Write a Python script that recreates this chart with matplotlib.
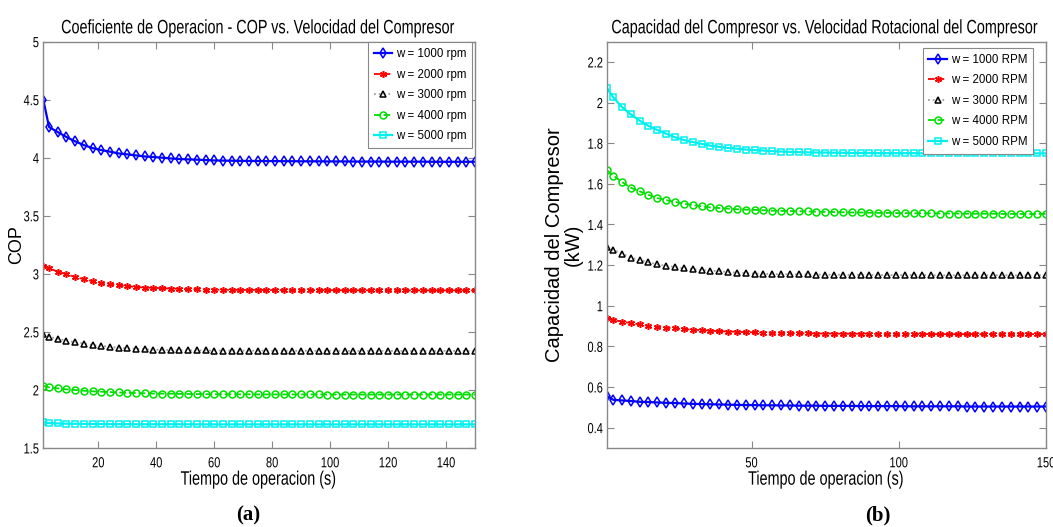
#!/usr/bin/env python3

import matplotlib
matplotlib.use('Agg')
import matplotlib.pyplot as plt
from matplotlib.patheffects import AbstractPathEffect
from matplotlib.transforms import Affine2D

graphWidth = 1053  # units are pixels
graphHeight = 527  # units are pixels

# time samples (s): first sample plus one every 3 s
tiempo = [1] + list(range(3, 151, 3))

# COP for each compressor speed
cop_1000 = [4.50, 4.264, 4.221, 4.178, 4.141, 4.109, 4.083, 4.066, 4.052, 4.037, 4.029,
            4.020, 4.011, 4.006, 4.000, 3.994, 3.989, 3.986, 3.983, 3.980, 3.977, 3.975,
            3.974, 3.973, 3.972, 3.972, 3.971, 3.971, 3.970, 3.970, 3.969, 3.969, 3.969,
            3.968, 3.968, 3.968, 3.967, 3.967, 3.967, 3.967, 3.966, 3.966, 3.966, 3.966,
            3.966, 3.965, 3.965, 3.965, 3.965, 3.965, 3.965]
cop_2000 = [3.068, 3.048, 3.019, 2.996, 2.973, 2.953, 2.936, 2.922, 2.910, 2.902, 2.893,
            2.887, 2.881, 2.879, 2.876, 2.873, 2.870, 2.867, 2.867, 2.864, 2.864, 2.862,
            2.862, 2.861, 2.861, 2.861, 2.860, 2.860, 2.860, 2.860, 2.859, 2.859, 2.859,
            2.859, 2.859, 2.858, 2.858, 2.858, 2.858, 2.858, 2.858, 2.857, 2.857, 2.857,
            2.857, 2.857, 2.857, 2.857, 2.857, 2.857, 2.857]
cop_3000 = [2.480, 2.459, 2.439, 2.425, 2.410, 2.399, 2.387, 2.379, 2.370, 2.364, 2.359,
            2.354, 2.350, 2.347, 2.345, 2.343, 2.342, 2.341, 2.340, 2.340, 2.339, 2.339,
            2.339, 2.338, 2.338, 2.338, 2.338, 2.338, 2.337, 2.337, 2.337, 2.337, 2.337,
            2.337, 2.337, 2.336, 2.336, 2.336, 2.336, 2.336, 2.336, 2.336, 2.336, 2.336,
            2.336, 2.336, 2.336, 2.336, 2.336, 2.336, 2.336]
cop_4000 = [2.035, 2.022, 2.013, 2.005, 1.999, 1.993, 1.988, 1.984, 1.981, 1.978, 1.975,
            1.973, 1.971, 1.969, 1.968, 1.967, 1.966, 1.965, 1.964, 1.963, 1.963, 1.962,
            1.962, 1.962, 1.962, 1.961, 1.961, 1.961, 1.961, 1.961, 1.961, 1.961, 1.961,
            1.960, 1.960, 1.960, 1.960, 1.960, 1.960, 1.960, 1.960, 1.960, 1.960, 1.960,
            1.960, 1.960, 1.960, 1.960, 1.960, 1.960, 1.960]
cop_5000 = [1.720, 1.714, 1.711, 1.709, 1.708, 1.707, 1.706, 1.706, 1.705, 1.705, 1.705,
            1.704, 1.704, 1.704, 1.704, 1.704, 1.704, 1.704, 1.703, 1.703, 1.703, 1.703,
            1.703, 1.703, 1.703, 1.703, 1.703, 1.703, 1.703, 1.703, 1.703, 1.703, 1.703,
            1.703, 1.703, 1.703, 1.703, 1.703, 1.703, 1.703, 1.703, 1.703, 1.703, 1.703,
            1.703, 1.703, 1.703, 1.703, 1.703, 1.703, 1.703]

# compressor capacity (kW) for each rotational speed
cap_1000 = [0.555, 0.537, 0.534, 0.531, 0.527, 0.526, 0.524, 0.522, 0.521, 0.519, 0.517,
            0.516, 0.515, 0.514, 0.513, 0.512, 0.511, 0.511, 0.510, 0.510, 0.509, 0.509,
            0.508, 0.508, 0.508, 0.507, 0.507, 0.507, 0.507, 0.506, 0.506, 0.506, 0.506,
            0.506, 0.505, 0.505, 0.505, 0.505, 0.505, 0.505, 0.505, 0.504, 0.504, 0.504,
            0.504, 0.504, 0.504, 0.504, 0.504, 0.504, 0.504]
cap_2000 = [0.939, 0.931, 0.921, 0.915, 0.908, 0.901, 0.897, 0.892, 0.888, 0.885, 0.882,
            0.880, 0.877, 0.875, 0.873, 0.872, 0.870, 0.869, 0.867, 0.866, 0.866, 0.865,
            0.864, 0.864, 0.863, 0.863, 0.863, 0.862, 0.862, 0.862, 0.862, 0.861, 0.861,
            0.861, 0.861, 0.861, 0.861, 0.860, 0.860, 0.860, 0.860, 0.860, 0.860, 0.860,
            0.860, 0.860, 0.860, 0.860, 0.860, 0.860, 0.860]
cap_3000 = [1.289, 1.274, 1.257, 1.237, 1.225, 1.214, 1.204, 1.196, 1.191, 1.184, 1.180,
            1.176, 1.173, 1.170, 1.166, 1.163, 1.160, 1.158, 1.157, 1.156, 1.155, 1.155,
            1.154, 1.154, 1.153, 1.153, 1.153, 1.152, 1.152, 1.152, 1.152, 1.151, 1.151,
            1.151, 1.151, 1.151, 1.151, 1.150, 1.150, 1.150, 1.150, 1.150, 1.150, 1.150,
            1.150, 1.150, 1.150, 1.150, 1.150, 1.150, 1.150]
cap_4000 = [1.666, 1.641, 1.609, 1.581, 1.563, 1.546, 1.530, 1.520, 1.511, 1.502, 1.496,
            1.489, 1.484, 1.481, 1.478, 1.475, 1.473, 1.472, 1.470, 1.468, 1.467, 1.466,
            1.465, 1.464, 1.463, 1.462, 1.461, 1.460, 1.459, 1.459, 1.458, 1.457, 1.457,
            1.456, 1.456, 1.455, 1.455, 1.455, 1.454, 1.454, 1.454, 1.453, 1.453, 1.453,
            1.453, 1.452, 1.452, 1.452, 1.452, 1.452, 1.452]
cap_5000 = [2.070, 2.026, 1.978, 1.942, 1.911, 1.885, 1.865, 1.847, 1.829, 1.816, 1.806,
            1.797, 1.788, 1.782, 1.777, 1.773, 1.769, 1.766, 1.764, 1.761, 1.759, 1.757,
            1.756, 1.755, 1.754, 1.754, 1.753, 1.753, 1.752, 1.752, 1.752, 1.751, 1.751,
            1.751, 1.751, 1.751, 1.750, 1.750, 1.750, 1.750, 1.750, 1.750, 1.750, 1.750,
            1.750, 1.750, 1.750, 1.750, 1.750, 1.750, 1.750]

velocidades = [1000, 2000, 3000, 4000, 5000]

# line style per speed: (line colour, linestyle, marker, marker colour, linewidth)
estilos = [
    ('#0000ff', '-', 'd', '#0000ff', 1.6),
    ('#ff0000', '--', (6, 2, 0), '#ff0000', 1.3),
    ('#a0a0a0', ':', '^', '#000000', 1.3),
    ('#00e000', '--', 'o', '#00e000', 1.3),
    ('#00f0f0', '-', 's', '#00f0f0', 1.6),
]

SANS = ['Liberation Sans', 'DejaVu Sans']


class Narrow(AbstractPathEffect):
    """Squeeze glyphs along the baseline to get a narrow face."""

    def __init__(self, sx=0.74, anchor=0.5):
        super().__init__()
        self.sx = sx
        self.anchor = anchor

    def draw_path(self, renderer, gc, tpath, affine, rgbFace=None):
        ext = tpath.get_extents()
        x0 = ext.x0 + self.anchor * ext.width
        squeeze = Affine2D().translate(-x0, 0).scale(self.sx, 1).translate(x0, 0)
        renderer.draw_path(gc, tpath, squeeze + affine, rgbFace)


def style_axes(ax):
    for s in ax.spines.values():
        s.set_color('#888888')
        s.set_linewidth(1.0)
    ax.tick_params(direction='in', length=5, width=0.8, color='#888888',
                   top=True, right=True, labelsize=10.5)
    ax.tick_params(axis='x', pad=6)
    ax.tick_params(axis='y', pad=3)
    for lab in ax.get_xticklabels():
        lab.set_family(SANS)
        lab.set_path_effects([Narrow(sx=0.76, anchor=0.5)])
    for lab in ax.get_yticklabels():
        lab.set_family(SANS)
        lab.set_path_effects([Narrow(sx=0.76, anchor=1.0)])


def draw_series(ax, series, unidad):
    for w, y, (lc, ls, mk, mc, lw) in zip(velocidades, series, estilos):
        ax.plot(tiempo, y, color=lc, linestyle=ls, linewidth=lw,
                marker=mk, markersize=5, markerfacecolor='none',
                markeredgecolor=mc, markeredgewidth=1.1,
                label='w = %d %s' % (w, unidad))


def add_legend(ax, anchor):
    leg = ax.legend(loc='upper right', bbox_to_anchor=anchor, borderaxespad=0,
                    prop={'family': SANS, 'size': 8.3}, fancybox=False,
                    edgecolor='#888888', framealpha=1, handlelength=1.6,
                    labelspacing=0.74, borderpad=0.5, handletextpad=0.35)
    leg.get_frame().set_linewidth(0.8)


def Plot():
    f = plt.figure(figsize=(graphWidth/100.0, graphHeight/100.0), dpi=100)

    # left panel: COP
    ax1 = f.add_axes([0.0411, 0.150, 0.410, 0.771])
    draw_series(ax1, [cop_1000, cop_2000, cop_3000, cop_4000, cop_5000], 'rpm')
    ax1.set_xlim(1, 150)
    ax1.set_ylim(1.5, 5)
    ax1.set_xticks([20, 40, 60, 80, 100, 120, 140])
    ax1.set_yticks([1.5, 2, 2.5, 3, 3.5, 4, 4.5, 5])
    ax1.set_yticklabels(['1.5', '2', '2.5', '3', '3.5', '4', '4.5', '5'])
    style_axes(ax1)
    t = ax1.set_title('Coeficiente de Operacion - COP vs. Velocidad del Compresor',
                      family=SANS, fontsize=14, pad=6)
    t.set_path_effects([Narrow()])
    t = ax1.set_xlabel('Tiempo de operacion (s)', family=SANS, fontsize=14, labelpad=1)
    t.set_path_effects([Narrow()])
    ax1.set_ylabel('COP', family=SANS, fontsize=13)
    ax1.yaxis.set_label_coords(-0.042, 0.5)
    add_legend(ax1, (0.994, 0.998))

    # right panel: compressor capacity
    ax2 = f.add_axes([0.5767, 0.150, 0.4167, 0.771])
    draw_series(ax2, [cap_1000, cap_2000, cap_3000, cap_4000, cap_5000], 'RPM')
    ax2.set_xlim(1, 150)
    ax2.set_ylim(0.3, 2.3)
    ax2.set_xticks([50, 100, 150])
    ax2.set_yticks([0.4, 0.6, 0.8, 1.0, 1.2, 1.4, 1.6, 1.8, 2.0, 2.2])
    ax2.set_yticklabels(['0.4', '0.6', '0.8', '1', '1.2', '1.4', '1.6', '1.8', '2', '2.2'])
    style_axes(ax2)
    t = ax2.set_title('Capacidad del Compresor vs. Velocidad Rotacional del Compresor',
                      family=SANS, fontsize=14, pad=6)
    t.set_path_effects([Narrow()])
    t = ax2.set_xlabel('Tiempo de operacion (s)', family=SANS, fontsize=14, labelpad=1)
    t.set_path_effects([Narrow()])
    ax2.set_ylabel('Capacidad del Compresor\n(kW)', family=SANS,
                   fontsize=14.5, linespacing=0.95)
    ax2.yaxis.set_label_coords(-0.057, 0.5)
    add_legend(ax2, (0.971, 0.984))

    # panel captions
    f.text(0.2355, 0.003, '(a)', family=['Liberation Serif', 'DejaVu Serif'],
           fontweight='bold', fontsize=15, ha='center', va='bottom')
    f.text(0.834, 0.003, '(b)', family=['Liberation Serif', 'DejaVu Serif'],
           fontweight='bold', fontsize=15, ha='center', va='bottom')

    f.savefig('out.png', dpi=100)
    plt.close('all')


if __name__ == "__main__":
    Plot()
